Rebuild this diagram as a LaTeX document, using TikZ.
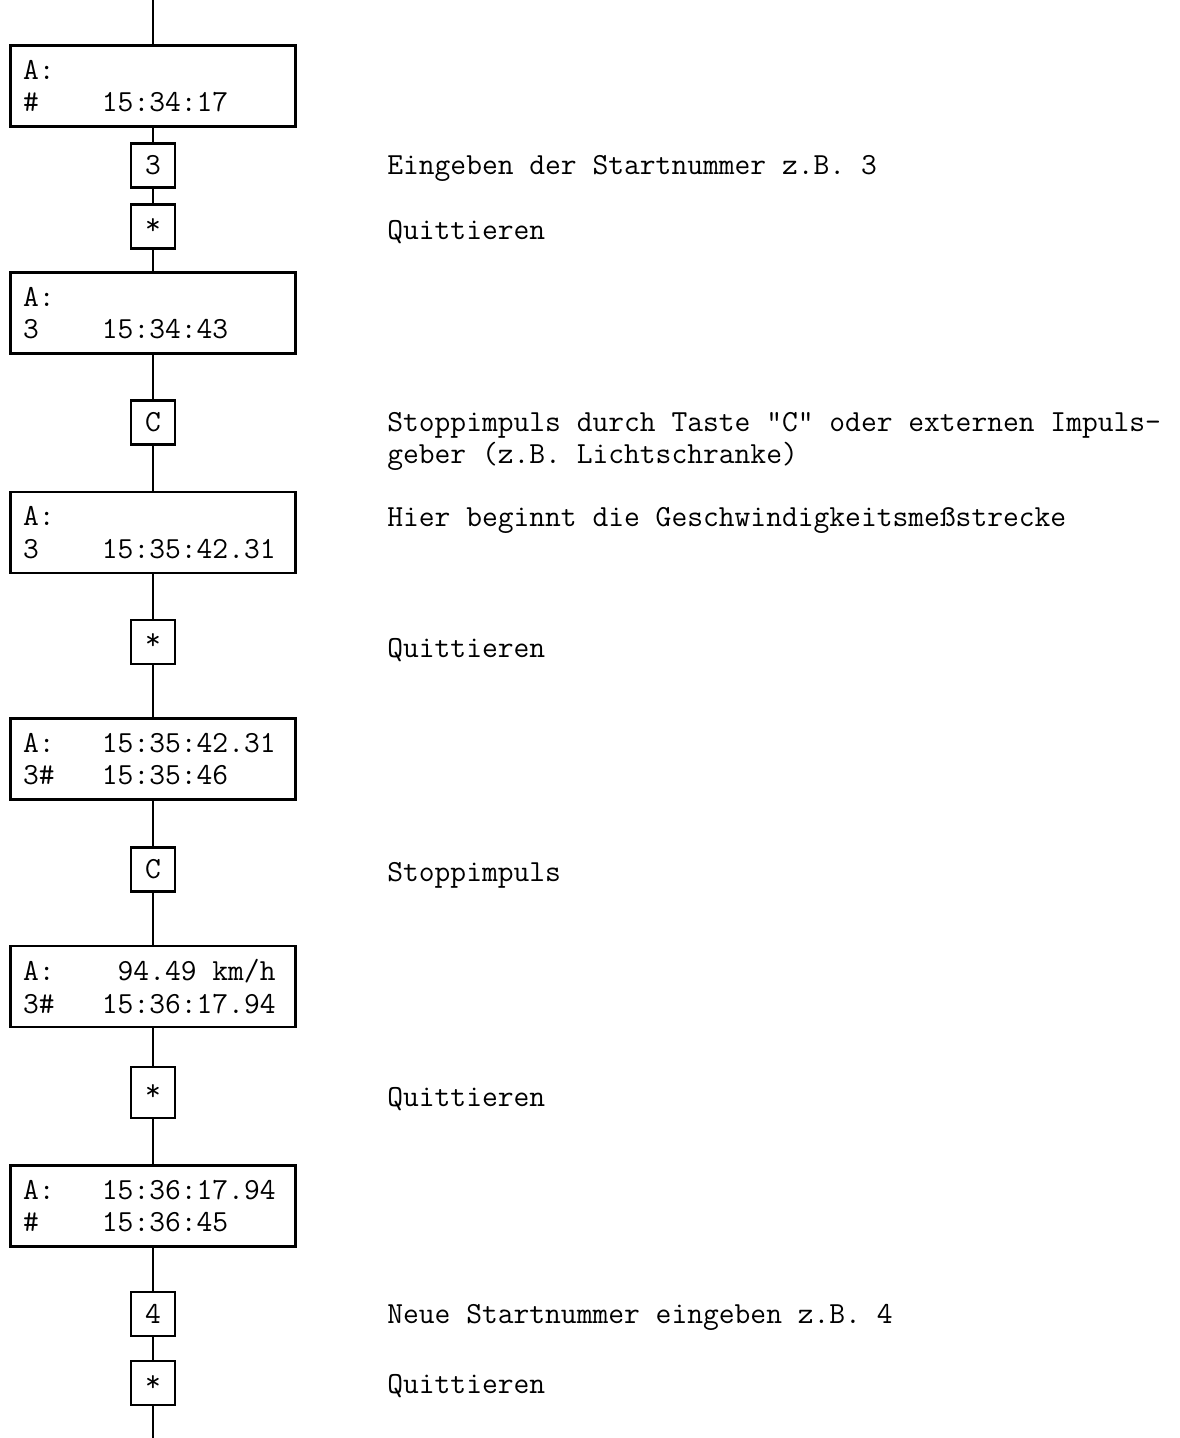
\documentclass[tikz,border=0pt]{standalone}
\usepackage{fontspec}
\newcommand{\lcdtext}{\ttfamily\fontsize{15.33pt}{16.25pt}\selectfont}
\newcommand{\gap}[1]{\hspace*{#1\fontcharwd\font`0}}
\usepackage{tikz}
\usetikzlibrary{positioning}

\begin{document}
\begin{tikzpicture}[x=0.5pt, y=-0.5pt, line width=1.3pt,
      every node/.style={font=\lcdtext},
      display/.style={draw, rectangle, align=left, text width=130pt, inner xsep=6.25pt,
        inner ysep=0pt, minimum height=40.5pt},
      key/.style={draw, rectangle, inner sep=0pt, minimum width=22pt, minimum height=22pt},
      note/.style={anchor=base west, inner sep=0pt, align=left}]
      \useasboundingbox (0,0) rectangle (1179,1438);
      % Displays
      \node[display] (d1) at (153,86)     {A:\\\#\gap{4}15:34:17};
      \node[display] (d2) at (153,313)    {A:\\3\gap{4}15:34:43};
      \node[display] (d3) at (153,532.5)  {A:\\3\gap{4}15:35:42.31};
      \node[display] (d4) at (153,759)    {A:\gap{3}15:35:42.31\\3\#\gap{3}15:35:46};
      \node[display] (d5) at (153,986.5)  {A:\gap{4}94.49\gap{1}km/h\\3\#\gap{3}15:36:17.94};
      \node[display] (d6) at (153,1206)   {A:\gap{3}15:36:17.94\\\#\gap{4}15:36:45};
      % Keys
      \node[key] (k1) at (153,165.5)  {3};
      \node[key] (k2) at (153,226.5)  {*};
      \node[key] (k3) at (153,422.5)  {C};
      \node[key] (k4) at (153,642)    {*};
      \node[key] (k5) at (153,869.5)  {C};
      \node[key, minimum height=25.5pt] (k6) at (153,1092.5) {*};
      \node[key] (k7) at (153,1314)   {4};
      \node[key] (k8) at (153,1383)   {*};
      % Line ends
      \coordinate (top) at (153,0);
      \coordinate (bottom) at (153,1438);
      % Connections
      \foreach \a/\b in {top/d1, d1/k1, k1/k2, k2/d2, d2/k3, k3/d3, d3/k4, k4/d4,
          d4/k5, k5/d5, d5/k6, k6/d6, d6/k7, k7/k8, k8/bottom}
        \draw (\a) -- (\b);
      % Notes
      \node[note] (n1) at (386,175)  {Eingeben der Startnummer z.B. 3};
      \node[note] (n2) at (386,240)  {Quittieren};
      \node[note] (n3) at (386,464)  {Stoppimpuls durch Taste “C” oder externen Impuls-\\geber (z.B. Lichtschranke)};
      \node[note] (n4) at (386,526)  {Hier beginnt die Geschwindigkeitsmeßstrecke};
      \node[note] (n5) at (386,657)  {Quittieren};
      \node[note] (n6) at (386,881)  {Stoppimpuls};
      \node[note] (n7) at (386,1106) {Quittieren};
      \node[note] (n8) at (386,1323) {Neue Startnummer eingeben z.B. 4};
      \node[note] (n9) at (386,1393) {Quittieren};
\end{tikzpicture}
\end{document}
